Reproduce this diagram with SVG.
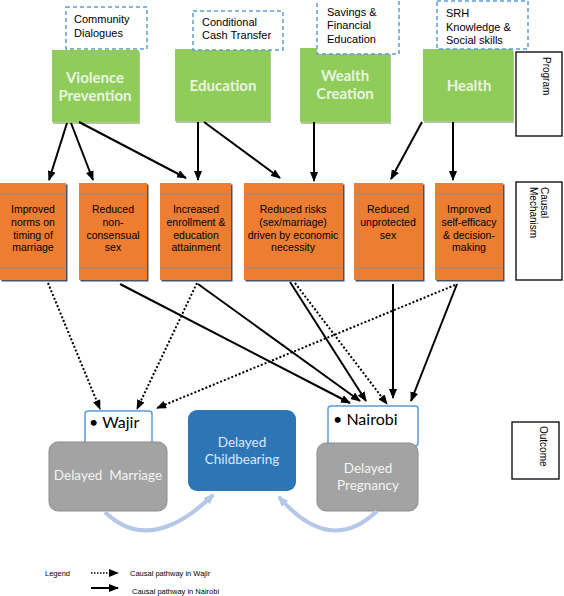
<svg xmlns="http://www.w3.org/2000/svg" width="564" height="596" viewBox="0 0 564 596">
<defs>
<marker id="ah" markerUnits="userSpaceOnUse" markerWidth="10" markerHeight="8" refX="9" refY="4" orient="auto"><path d="M0,0 L10,4 L0,8 Z" fill="#000"/></marker>
<marker id="ahb" markerUnits="userSpaceOnUse" markerWidth="11" markerHeight="9" refX="9" refY="4.5" orient="auto"><path d="M0,0 L11,4.5 L0,9 Z" fill="#b4c7e7"/></marker>
</defs>
<style>
.dash{fill:#fff;stroke:#5b9bd5;stroke-width:1.5;stroke-dasharray:4 3}
.ptxt{font-family:"Liberation Sans",Arial,sans-serif;font-size:11px;fill:#000}
.green{fill:#8fcc5a}
.gshadow{fill:#6f9a49;opacity:0.55}
.gtxt{font-family:Lato,"Open Sans",sans-serif;font-weight:bold;font-size:15px;fill:#eaf5e0;text-anchor:middle}
.orange{fill:#ed7d31}
.oshadow{fill:#44546a}
.stripe{stroke:#8a8f99;stroke-width:1.2}
.mtxt{font-family:"Liberation Sans",Arial,sans-serif;font-size:10.5px;fill:#000;text-anchor:middle}
.lab{fill:#fff;stroke:#000;stroke-width:1.3}
.ltxt{font-family:"Liberation Sans",Arial,sans-serif;font-size:10px;fill:#000}
.solid{stroke:#000;stroke-width:2;fill:none;marker-end:url(#ah)}
.dot{stroke:#000;stroke-width:2;fill:none;stroke-dasharray:2 2;marker-end:url(#ah)}
.curve{stroke:#b4c7e7;stroke-width:4;fill:none;marker-end:url(#ahb)}
.gray{fill:#a3a3a3;stroke:#8c8c8c;stroke-width:1}
.otxt{font-family:Lato,"Open Sans",sans-serif;font-size:13.5px;fill:#f4f4f4;text-anchor:middle}
.loc{fill:#fff;stroke:#5b9bd5;stroke-width:1.5}
.loctxt{font-family:Lato,"Open Sans",sans-serif;font-size:16px;fill:#000}
.legtxt{font-family:"Liberation Sans",Arial,sans-serif;font-size:7.5px;fill:#000}
</style>

<!-- Program level -->
<g id="violence-prevention">
<rect class="gshadow" x="53" y="52" width="87" height="72"/>
<rect class="green" x="52" y="50" width="87" height="72"/>
<text class="gtxt" x="95" y="83">Violence</text>
<text class="gtxt" x="95" y="101">Prevention</text>
</g>
<g id="education">
<rect class="gshadow" x="176" y="51" width="95" height="72"/>
<rect class="green" x="175" y="49" width="95" height="72"/>
<text class="gtxt" x="223" y="91">Education</text>
</g>
<g id="wealth-creation">
<rect class="gshadow" x="301" y="50" width="90" height="74"/>
<rect class="green" x="300" y="48" width="90" height="74"/>
<text class="gtxt" x="345" y="81">Wealth</text>
<text class="gtxt" x="345" y="99">Creation</text>
</g>
<g id="health">
<rect class="gshadow" x="424" y="51" width="90" height="72"/>
<rect class="green" x="423" y="49" width="90" height="72"/>
<text class="gtxt" x="469" y="91">Health</text>
</g>

<g id="community-dialogues">
<rect class="dash" x="66" y="7" width="81" height="42"/>
<text class="ptxt" x="74" y="23">Community</text>
<text class="ptxt" x="74" y="37">Dialogues</text>
</g>
<g id="conditional-cash-transfer">
<rect class="dash" x="193" y="11" width="90" height="39"/>
<text class="ptxt" x="202" y="26">Conditional</text>
<text class="ptxt" x="202" y="39">Cash Transfer</text>
</g>
<g id="savings-financial-education">
<rect class="dash" x="317" y="-1" width="82" height="55"/>
<text class="ptxt" x="327" y="16">Savings &amp;</text>
<text class="ptxt" x="327" y="29">Financial</text>
<text class="ptxt" x="327" y="43">Education</text>
</g>
<g id="srh-knowledge">
<rect class="dash" x="437" y="1" width="91" height="48"/>
<text class="ptxt" x="446" y="17">SRH</text>
<text class="ptxt" x="446" y="31">Knowledge &amp;</text>
<text class="ptxt" x="446" y="44">Social skills</text>
</g>

<g id="label-program">
<rect class="lab" x="516" y="52" width="46" height="84"/>
<text class="ltxt" transform="translate(543,57) rotate(90)">Program</text>
</g>

<!-- Causal mechanism level -->
<g id="mech-norms">
<rect class="oshadow" x="1.5" y="184.5" width="66" height="97"/>
<rect class="orange" x="0" y="183" width="66" height="97"/>
<line class="stripe" x1="0" y1="194" x2="66" y2="194"/>
<line class="stripe" x1="0" y1="268" x2="66" y2="268"/>
<text class="mtxt" x="33" y="213">Improved</text>
<text class="mtxt" x="33" y="226">norms on</text>
<text class="mtxt" x="33" y="239">timing of</text>
<text class="mtxt" x="33" y="251">marriage</text>
</g>
<g id="mech-nonconsensual">
<rect class="oshadow" x="80.5" y="184.5" width="68" height="97"/>
<rect class="orange" x="79" y="183" width="68" height="97"/>
<line class="stripe" x1="79" y1="194" x2="147" y2="194"/>
<line class="stripe" x1="79" y1="268" x2="147" y2="268"/>
<text class="mtxt" x="113" y="213">Reduced</text>
<text class="mtxt" x="113" y="226">non-</text>
<text class="mtxt" x="113" y="239">consensual</text>
<text class="mtxt" x="113" y="251">sex</text>
</g>
<g id="mech-enrollment">
<rect class="oshadow" x="161.5" y="184.5" width="71" height="97"/>
<rect class="orange" x="160" y="183" width="71" height="97"/>
<line class="stripe" x1="160" y1="194" x2="231" y2="194"/>
<line class="stripe" x1="160" y1="268" x2="231" y2="268"/>
<text class="mtxt" x="196" y="213">Increased</text>
<text class="mtxt" x="196" y="226">enrollment &amp;</text>
<text class="mtxt" x="196" y="239">education</text>
<text class="mtxt" x="196" y="251">attainment</text>
</g>
<g id="mech-risks">
<rect class="oshadow" x="245.5" y="184.5" width="99" height="97"/>
<rect class="orange" x="244" y="183" width="99" height="97"/>
<line class="stripe" x1="244" y1="194" x2="343" y2="194"/>
<line class="stripe" x1="244" y1="268" x2="343" y2="268"/>
<text class="mtxt" x="293" y="213">Reduced risks</text>
<text class="mtxt" x="293" y="226">(sex/marriage)</text>
<text class="mtxt" x="293" y="239">driven by economic</text>
<text class="mtxt" x="293" y="251">necessity</text>
</g>
<g id="mech-unprotected">
<rect class="oshadow" x="355.5" y="184.5" width="69" height="97"/>
<rect class="orange" x="354" y="183" width="69" height="97"/>
<line class="stripe" x1="354" y1="194" x2="423" y2="194"/>
<line class="stripe" x1="354" y1="268" x2="423" y2="268"/>
<text class="mtxt" x="388" y="213">Reduced</text>
<text class="mtxt" x="388" y="226">unprotected</text>
<text class="mtxt" x="388" y="239">sex</text>
</g>
<g id="mech-selfefficacy">
<rect class="oshadow" x="436.5" y="184.5" width="68" height="97"/>
<rect class="orange" x="435" y="183" width="68" height="97"/>
<line class="stripe" x1="435" y1="194" x2="503" y2="194"/>
<line class="stripe" x1="435" y1="268" x2="503" y2="268"/>
<text class="mtxt" x="469" y="213">Improved</text>
<text class="mtxt" x="469" y="226">self-efficacy</text>
<text class="mtxt" x="469" y="239">&amp; decision-</text>
<text class="mtxt" x="469" y="251">making</text>
</g>

<g id="label-mechanism">
<rect class="lab" x="516" y="182" width="46" height="98"/>
<text class="ltxt" transform="translate(541,187) rotate(90)">Causal</text>
<text class="ltxt" transform="translate(530,187) rotate(90)">Mechanism</text>
</g>

<!-- Outcome level -->
<g id="wajir">
<rect class="loc" x="85" y="411" width="67" height="36" rx="3"/>
<text class="loctxt" x="89" y="428">• Wajir</text>
</g>
<g id="delayed-marriage">
<rect class="gray" x="49" y="442" width="118" height="69" rx="9"/>
<text class="otxt" x="108" y="480">Delayed&#160; Marriage</text>
</g>
<g id="delayed-childbearing">
<rect x="188" y="410" width="108" height="81" rx="9" fill="#2e75b6"/>
<text class="otxt" x="242" y="447" style="fill:#dde8f6">Delayed</text>
<text class="otxt" x="242" y="464" style="fill:#dde8f6">Childbearing</text>
</g>
<g id="nairobi">
<rect class="loc" x="328" y="406" width="90" height="40" rx="3"/>
<text class="loctxt" x="333" y="425">• Nairobi</text>
</g>
<g id="delayed-pregnancy">
<rect class="gray" x="317" y="443" width="101" height="68" rx="9"/>
<text class="otxt" x="368" y="473">Delayed</text>
<text class="otxt" x="368" y="490">Pregnancy</text>
</g>

<g id="label-outcome">
<rect class="lab" x="512" y="422" width="47" height="57"/>
<text class="ltxt" transform="translate(540,426) rotate(90)">Outcome</text>
</g>

<!-- Connectors -->
<g id="connectors">
<line class="solid" x1="67" y1="123" x2="49" y2="180"/>
<line class="solid" x1="71" y1="123" x2="93" y2="180"/>
<line class="solid" x1="79" y1="122" x2="186" y2="178"/>
<line class="solid" x1="198" y1="122" x2="198" y2="180"/>
<line class="solid" x1="204" y1="122" x2="280" y2="178"/>
<line class="solid" x1="314" y1="122" x2="314" y2="181"/>
<line class="solid" x1="422" y1="122" x2="391" y2="179"/>
<line class="solid" x1="453" y1="122" x2="453" y2="180"/>

<line class="dot" x1="48" y1="283" x2="100" y2="409"/>
<line class="dot" x1="197" y1="283" x2="137" y2="409"/>
<line class="dot" x1="455" y1="285" x2="157" y2="408"/>
<line class="dot" x1="295" y1="283" x2="387" y2="404"/>

<line class="solid" x1="120" y1="284" x2="350" y2="403"/>
<line class="solid" x1="198" y1="284" x2="360" y2="401"/>
<line class="solid" x1="290" y1="282" x2="366" y2="401"/>
<line class="solid" x1="393" y1="284" x2="393" y2="398"/>
<line class="solid" x1="457" y1="284" x2="411" y2="401"/>

<path class="curve" d="M105,512 Q150,556 213,495"/>
<path class="curve" d="M377,511 Q330,556 279,497"/>
</g>

<!-- Legend -->
<g id="legend">
<text class="legtxt" x="45" y="576">Legend</text>
<line class="dot" x1="91" y1="573" x2="118" y2="573" style="stroke-width:1.5;stroke-dasharray:1.5 1.5"/>
<text class="legtxt" x="130" y="576">Causal pathway in Wajir</text>
<line class="solid" x1="91" y1="588" x2="118" y2="588"/>
<text class="legtxt" x="132" y="594">Causal pathway in Nairobi</text>
</g>
</svg>
